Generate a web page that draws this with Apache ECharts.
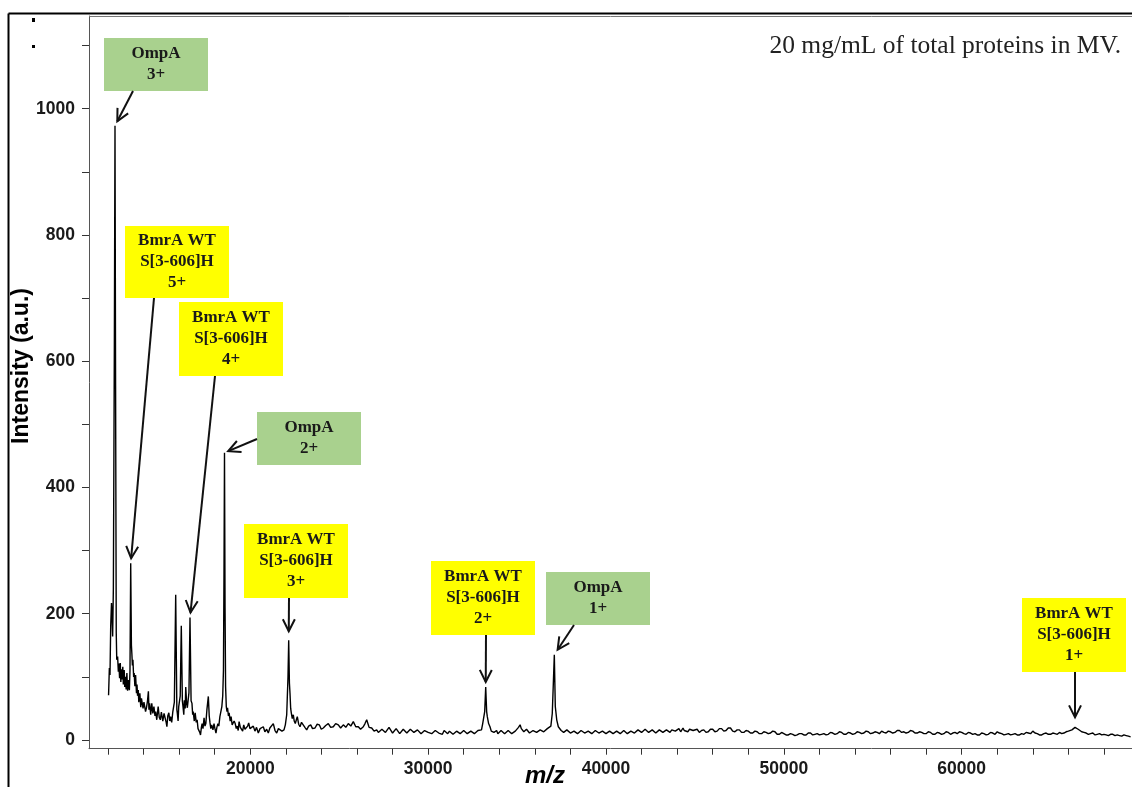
<!DOCTYPE html>
<html>
<head>
<meta charset="utf-8">
<script src="https://cdn.jsdelivr.net/npm/echarts@6/dist/echarts.min.js"></script>
<style>
html,body{margin:0;padding:0;background:#fff;}
#chart{width:1132px;height:787px;}
</style>
</head>
<body>
<div id="chart"></div>
<script>
// ---------------- DATA ----------------
// spectrum: [m/z, intensity (a.u.)]
const spectrumLow = [
  [12030,71],[12055,95],[12075,114],[12111,103],[12150,180],[12195,217],[12224,200],[12260,164],
  [12300,240],[12355,620],[12392,973],[12425,560],[12462,170],[12490,127],[12540,132],[12580,108],
  [12610,121],[12650,98],[12690,122],[12720,92],[12750,112],[12800,96],[12830,116],[12860,88],
  [12910,111],[12940,84],[12970,100],[13020,80],[13060,106],[13100,78],[13140,95],[13200,79],
  [13235,110],[13275,280],[13315,150],[13340,137],[13370,118],[13400,127],[13440,100],[13470,106],
  [13510,85],[13550,103],[13600,74],[13630,88],[13660,70],[13700,79],[13730,60],[13790,74],
  [13840,52],[13880,66],[13920,69],[13970,50],[14020,60],[14070,63],[14110,45],[14160,51],
  [14220,62],[14270,77],[14300,48],[14340,58],[14400,40],[14460,58],[14520,42],[14580,53],
  [14640,38],[14680,45],[14740,32],[14820,53],[14880,36],[14940,32],[15000,44],[15080,30],
  [15150,42],[15220,45],[15270,28],[15310,21],[15360,38],[15420,43],[15470,30],[15520,37],
  [15580,28],[15640,44],[15730,60],[15805,230],[15870,48],[15895,43],[15940,30],[15975,53],
  [16060,70],[16120,181],[16180,62],[16215,53],[16260,40],[16290,63],[16340,50],[16370,84],
  [16420,58],[16460,51],[16550,75],[16609,194],[16670,62],[16720,58],[16760,40],[16790,45],
  [16850,30],[16900,43],[16960,28],[17010,32],[17060,18],[17110,21],[17160,12],[17200,8],
  [17250,20],[17290,26],[17340,18],[17400,35],[17450,22],[17500,26],[17560,48],[17640,69],
  [17690,38],[17735,27],[17780,18],[17830,24],[17900,16],[17960,26],[18010,18],[18070,11],
  [18120,20],[18180,26],[18230,22],[18290,37],[18350,40],[18400,53],[18450,70],[18490,110],
  [18520,260],[18549,455],[18580,210],[18610,85],[18650,53],[18690,45],[18720,51],[18770,38],
  [18810,43],[18870,30],[18920,37],[18980,24],[19030,21],[19090,30],[19150,26],[19210,18],
  [19260,22],[19320,15],[19370,29],[19440,20],[19500,19],[19570,14],[19630,24],[19700,17],
  [19780,16],[19850,22],[19910,27],[19980,18]
];
const spectrumMid = [
  [20080,19],[20169,22],[20260,14],[20350,20],[20450,11],[20550,18],[20640,15],[20731,21],
  [20820,13],[20920,17],[21012,11],[21100,19],[21200,16],[21293,26],[21390,15],[21484,11],
  [21580,18],[21670,21],[21780,14],[21895,16],[21970,24],[22047,40],[22120,100],[22159,158],
  [22200,90],[22232,74],[22270,50],[22305,43],[22360,34],[22418,40],[22470,30],[22530,26],
  [22590,32],[22643,37],[22720,25],[22795,21],[22880,28],[22980,26],[23070,20],[23171,16],
  [23280,22],[23396,24],[23500,18],[23638,19],[23760,25],[23880,24],[23990,17],[24105,19],
  [24240,23],[24386,26],[24520,20],[24667,21],[24800,26],[24948,24],[25080,19],[25230,24],
  [25370,20],[25511,26],[25650,22],[25792,29],[25930,21],[26073,21],[26200,17],[26354,21],
  [26450,26],[26545,32],[26680,20],[26826,19],[26960,14],[27107,16],[27200,12],[27293,11],
  [27400,17],[27500,18],[27600,12],[27700,14],[27800,20],[27900,19],[28000,11],[28100,13],
  [28200,18],[28300,17],[28400,10],[28500,12],[28600,17],[28700,16],[28800,11],[28900,13],
  [29000,17],[29100,18],[29200,12],[29300,12],[29400,16],[29500,15],[29600,10],[29700,11],
  [29800,15],[29900,16]
];
const spectrumHigh = [
  [30000,12],[30100,14],[30200,10],[30300,11],[30400,15],[30500,16],[30600,11],[30700,12],
  [30800,9],[30900,15],[31000,12],[31100,10],[31200,14],[31300,13],[31400,9],[31500,11],
  [31600,14],[31700,15],[31800,10],[31900,12],[32000,15],[32100,14],[32200,10],[32300,11],
  [32400,14],[32500,13],[32600,10],[32700,12],[32800,15],[32900,16],[33000,16],[33068,26],
  [33180,45],[33237,84],[33290,45],[33327,37],[33400,26],[33478,21],[33550,14],[33620,17],
  [33700,12],[33780,14],[33850,15],[33920,10],[34000,11],[34100,15],[34200,14],[34300,10],
  [34400,12],[34500,15],[34600,13],[34700,10],[34800,11],[34900,14],[35000,16],[35080,20],
  [35170,24],[35240,18],[35300,19],[35380,13],[35450,14],[35530,17],[35600,15],[35700,11],
  [35800,12],[35900,15],[36000,16],[36100,12],[36200,13],[36300,16],[36400,17],[36500,13],
  [36600,15],[36700,18],[36800,20],[36900,22],[36980,42],[37040,90],[37095,135],[37150,53],
  [37230,32],[37320,21],[37400,21],[37480,15],[37550,16],[37620,12],[37700,13],[37800,16],
  [37900,15],[38000,11],[38100,11],[38200,14],[38300,14],[38400,10],[38500,12],[38600,15],
  [38700,15],[38800,11],[38900,11],[39000,14],[39100,13],[39200,10],[39300,12],[39400,15],
  [39500,14],[39600,11],[39700,10],[39800,14],[39900,13],[40000,10],[40100,12],[40200,14],
  [40300,15],[40400,10],[40500,11],[40600,14],[40700,13],[40800,10],[40900,12],[41000,15],
  [41100,14],[41200,10],[41300,11],[41400,14],[41500,13],[41600,11],[41700,12],[41800,16],
  [41900,15],[42000,12],[42100,13],[42200,17],[42300,16],[42400,12],[42500,12],[42600,16],
  [42700,14],[42800,11],[42900,13],[43000,16],[43100,17],[43200,12],[43300,14],[43400,16],
  [43500,13],[43600,12],[43700,16],[43800,13],[43900,14],[44000,16],[44100,18],[44200,13],
  [44331,19],[44400,15],[44500,14],[44600,13],[44700,17],[44800,14],[44900,15]
];
const spectrumTail = [
  [45000,14],[45125,17],[45250,12],[45375,15],[45500,16],[45625,12],[45750,13],[45875,17],
  [46000,17],[46125,13],[46250,14],[46375,18],[46500,18],[46625,14],[46750,15],[46875,19],
  [47000,19],[47125,14],[47250,13],[47375,16],[47500,16],[47625,12],[47750,12],[47875,15],
  [48000,14],[48125,11],[48250,11],[48375,14],[48500,13],[48625,10],[48750,10],[48875,13],
  [49000,12],[49125,10],[49250,11],[49375,14],[49500,13],[49625,9],[49750,9],[49875,12],
  [50000,10],[50125,8],[50250,8],[50375,10],[50500,9],[50625,7],[50750,8],[50875,10],
  [51000,10],[51125,8],[51250,8],[51375,11],[51500,11],[51625,8],[51750,9],[51875,10],
  [52000,8],[52125,9],[52250,10],[52375,8],[52500,9],[52625,12],[52750,11],[52875,9],
  [53000,10],[53125,13],[53250,12],[53375,9],[53500,9],[53625,12],[53750,11],[53875,9],
  [54000,10],[54125,13],[54250,12],[54375,10],[54500,11],[54625,14],[54750,13],[54875,10],
  [55000,11],[55125,13],[55250,12],[55375,10],[55500,14],[55625,12],[55750,11],[55875,14],
  [56000,13],[56125,11],[56250,12],[56375,15],[56500,15],[56625,12],[56750,13],[56875,11],
  [57000,12],[57125,15],[57250,14],[57375,11],[57500,11],[57625,13],[57750,12],[57875,10],
  [58000,10],[58125,13],[58250,12],[58375,9],[58500,9],[58625,12],[58750,11],[58875,9],
  [59000,10],[59125,13],[59250,12],[59375,9],[59500,11],[59625,12],[59750,10],[59875,13],
  [60000,12],[60125,10],[60250,9],[60375,12],[60500,11],[60625,9],[60750,10],[60875,8],
  [61000,8],[61125,11],[61250,10],[61375,8],[61500,9],[61625,12],[61750,11],[61875,9],
  [62000,13],[62125,11],[62250,10],[62375,8],[62500,9],[62625,10],[62750,8],[62875,9],
  [63000,10],[63125,8],[63250,8],[63375,10],[63500,9],[63625,12],[63750,11],[63875,10],
  [64000,14],[64125,11],[64250,10],[64375,8],[64500,8],[64625,10],[64750,11],[64875,9],
  [65000,9],[65125,11],[65250,10],[65375,9],[65500,12],[65625,10],[65750,11],[65875,13],
  [66000,14],[66100,13],[66200,16],[66300,18],[66375,20],[66460,18],[66550,17],[66650,14],
  [66750,13],[66875,12],[67000,11],[67125,9],[67250,10],[67375,11],[67500,8],[67625,9],
  [67750,10],[67875,8],[68000,9],[68125,8],[68250,7],[68375,9],[68500,9],[68625,7],
  [68750,8],[68875,7],[69000,6],[69125,8],[69250,7],[69375,6],[69500,5]
];

// axis ticks
const xTickValues = [12000,14000,16000,18000,20000,22000,24000,26000,28000,30000,32000,34000,36000,38000,
  40000,42000,44000,46000,48000,50000,52000,54000,56000,58000,60000,62000,64000,66000,68000];
const xLabelValues = [20000,30000,40000,50000,60000];
const yTickValues = [0,100,200,300,400,500,600,700,800,900,1000,1100];
const yLabelValues = [0,200,400,600,800,1000];

// peak annotations
const annLabels = [
  ['OmpA','3+'],
  ['BmrA WT','S[3-606]H','5+'],
  ['BmrA WT','S[3-606]H','4+'],
  ['OmpA','2+'],
  ['BmrA WT','S[3-606]H','3+'],
  ['BmrA WT','S[3-606]H','2+'],
  ['OmpA','1+'],
  ['BmrA WT','S[3-606]H','1+']
];
const annKind = ['OmpA','BmrA','BmrA','OmpA','BmrA','BmrA','OmpA','BmrA'];
const annPeakMz = [12392,13275,16609,18549,22159,33237,37095,66375];
const annPeakInt = [973,280,194,455,158,84,135,20];

const noteText = '20 mg/mL of total proteins in MV.';
const xName = 'm/z';
const yName = 'Intensity (a.u.)';

// ---------------- LAYOUT (pixels) ----------------
const boxLayout = [ // x, y, w, h, arrow start x, arrow start y, gap to peak
  [104,38,104,53,133,91,5],
  [125,226,104,72,154,298,5],
  [179,302,104,74,215,376,5],
  [257,412,104,53,257,439,4],
  [244,524,104,74,289,598,9],
  [431,561,104,74,486,635,5],
  [546,572,104,53,574,625,6],
  [1022,598,104,74,1075,672,10]
];
const kindColor = {OmpA:'#a9d18e', BmrA:'#ffff00'};

const chart = echarts.init(document.getElementById('chart'), null, {renderer:'canvas'});
const spectrum = spectrumLow.concat(spectrumMid, spectrumHigh, spectrumTail);

const axisFont = {fontFamily:'Liberation Sans, Arial', fontWeight:'bold', fontSize:17.5, color:'#1a1a1a'};

chart.setOption({
  animation:false,
  backgroundColor:'#fff',
  grid:{left:89, right:0, top:16, bottom:38.3, containLabel:false},
  xAxis:{
    type:'value', min:10930, max:69578,
    axisLine:{show:true, onZero:false, lineStyle:{color:'#555', width:1}},
    axisTick:{show:true, inside:false, length:6, lineStyle:{color:'#333', width:1}, customValues:xTickValues},
    axisLabel:Object.assign({margin:11, customValues:xLabelValues, formatter:v=>String(v)}, axisFont),
    splitLine:{show:false}
  },
  yAxis:{
    type:'value', min:-13.8, max:1146.8,
    axisLine:{show:true, onZero:false, lineStyle:{color:'#555', width:1}},
    axisTick:{show:true, inside:false, length:7, lineStyle:{color:'#333', width:1}, customValues:yTickValues},
    axisLabel:Object.assign({margin:14, customValues:yLabelValues, formatter:v=>String(v)}, axisFont),
    splitLine:{show:false}
  },
  series:[{
    type:'line', data:spectrum, showSymbol:false, symbol:'none',
    lineStyle:{color:'#000', width:1.4}, clip:true
  }]
});

// ---------------- ANNOTATIONS ----------------
const graphics = [];
// outer frame
graphics.push({type:'line', shape:{x1:8.5,y1:13.5,x2:1132,y2:13.5}, style:{stroke:'#000', lineWidth:2}, z:100});
graphics.push({type:'line', shape:{x1:8.5,y1:13.5,x2:8.5,y2:787}, style:{stroke:'#000', lineWidth:2}, z:100});
// inner top border
graphics.push({type:'line', shape:{x1:89,y1:16.5,x2:1132,y2:16.5}, style:{stroke:'#777', lineWidth:1}, z:100});
// small marks at top-left
graphics.push({type:'rect', shape:{x:32,y:18,width:3,height:4}, style:{fill:'#000'}, z:100});
graphics.push({type:'rect', shape:{x:32,y:45,width:3,height:3}, style:{fill:'#000'}, z:100});

// axis names
graphics.push({type:'text', x:22, y:366, rotation:Math.PI/2,
  style:{text:yName, fontFamily:'Liberation Sans, Arial', fontWeight:'bold', fontSize:23, fill:'#000',
    textAlign:'center', textVerticalAlign:'middle'}, z:100});
graphics.push({type:'text', x:545, y:776,
  style:{text:xName, fontFamily:'Liberation Sans, Arial', fontWeight:'bold', fontStyle:'italic', fontSize:24, fill:'#000',
    textAlign:'center', textVerticalAlign:'middle'}, z:100});
// note
graphics.push({type:'text', x:1121, y:46,
  style:{text:noteText, fontFamily:'Liberation Serif, Times New Roman', fontSize:25.5, fill:'#222',
    textAlign:'right', textVerticalAlign:'middle'}, z:100});

for (let i = 0; i < annLabels.length; i++) {
  const [bx,by,bw,bh,sx,sy,gap] = boxLayout[i];
  graphics.push({type:'rect', shape:{x:bx,y:by,width:bw,height:bh}, style:{fill:kindColor[annKind[i]]}, z:90});
  graphics.push({type:'text', x:bx+bw/2, y:by+bh/2,
    style:{text:annLabels[i].join('\n'), fontFamily:'Liberation Serif, Times New Roman', fontWeight:'bold',
      fontSize:17, lineHeight:21, fill:'#1a1a1a', textAlign:'center', textVerticalAlign:'middle'}, z:95});
  const p = chart.convertToPixel({gridIndex:0}, [annPeakMz[i], annPeakInt[i]]);
  let dx = p[0]-sx, dy = p[1]-sy;
  const len = Math.sqrt(dx*dx+dy*dy);
  dx /= len; dy /= len;
  const tx = p[0]-dx*gap, ty = p[1]-dy*gap;
  graphics.push({type:'line', shape:{x1:sx,y1:sy,x2:tx,y2:ty}, style:{stroke:'#111', lineWidth:2}, z:96});
  const L = 12, W = 6;
  const nx = -dy, ny = dx;
  graphics.push({type:'polyline', shape:{points:[[tx-dx*L+nx*W, ty-dy*L+ny*W],[tx,ty],[tx-dx*L-nx*W, ty-dy*L-ny*W]]},
    style:{stroke:'#111', lineWidth:2, fill:null}, z:96});
}
chart.setOption({graphic:graphics});
</script>
</body>
</html>
